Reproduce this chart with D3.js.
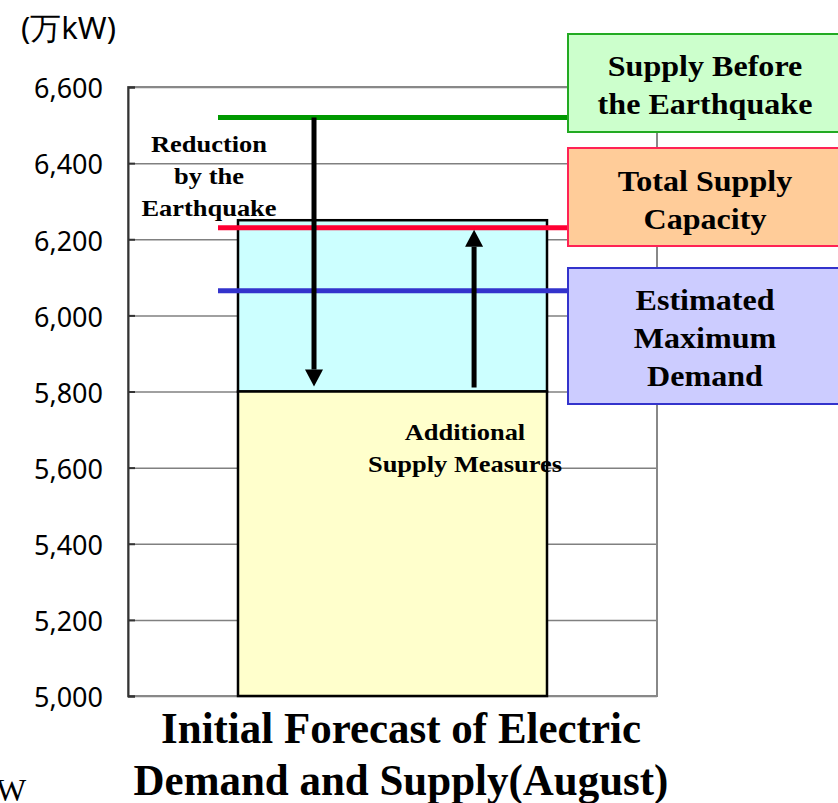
<!DOCTYPE html>
<html>
<head>
<meta charset="utf-8">
<script src="https://cdn.jsdelivr.net/npm/d3@7"></script>
<style>
body { margin: 0; background: #fff; }
.serif { font-family: "Liberation Serif", "Times New Roman", serif; font-weight: bold; }
.sans { font-family: "Noto Sans", "Open Sans", sans-serif; }
</style>
</head>
<body>
<svg width="838" height="803"></svg>
<script>
// data
var categories = ["Initial Forecast of Electric|Demand and Supply(August)"];
var baseSupply = [5800];          // yellow part
var addedSupply = [6250];         // top of cyan part
var levelNames = ["Supply Before|the Earthquake", "Total Supply|Capacity", "Estimated|Maximum|Demand"];
var levelValues = [6520, 6230, 6065];
var yTicks = [5000, 5200, 5400, 5600, 5800, 6000, 6200, 6400, 6600];
var unitLabel = "(万kW)";

var svg = d3.select("svg");

var plotL = 128, plotR = 657, plotT = 87, plotB = 696;

var x = d3.scaleBand().domain(categories).range([plotL, plotR]).paddingInner(0).paddingOuter(0.356);
var y = d3.scaleLinear().domain([5000, 6600]).range([plotB, plotT]);

var levelColors = ["#009900", "#ff0033", "#3333cc"];
var boxFill = ["#ccffcc", "#ffcc99", "#ccccff"];
var boxStroke = ["#22aa22", "#ff2255", "#3333cc"];

// grid
svg.append("g")
.attr("transform", "translate(" + plotL + ",0)")
.call(d3.axisRight(y).tickValues(yTicks).tickFormat("").tickSize(plotR - plotL))
.call(function (g) { g.select(".domain").remove(); })
.selectAll("line").attr("stroke", "#808080").attr("stroke-width", 1.5);

// plot border
svg.append("rect")
.attr("x", plotL).attr("y", plotT)
.attr("width", plotR - plotL).attr("height", plotB - plotT)
.attr("fill", "none").attr("stroke", "#888").attr("stroke-width", 2);

// left axis
var yAxis = svg.append("g")
.attr("transform", "translate(" + plotL + ",0)")
.call(d3.axisLeft(y).tickValues(yTicks).tickFormat(d3.format(",")).tickSize(-7).tickPadding(24));
yAxis.select(".domain").attr("stroke", "#333").attr("stroke-width", 2);
yAxis.selectAll("line").attr("stroke", "#333").attr("stroke-width", 2);
yAxis.selectAll("text").attr("class", "sans").attr("font-size", "27px").attr("fill", "#000")
.attr("dx", "-1").attr("dy", "0.4em");

svg.append("text").attr("class", "sans")
.attr("x", 21).attr("y", 39)
.attr("font-size", "31px")
.text(unitLabel);

// bars
categories.forEach(function (c, i) {
	svg.append("rect")
	.attr("x", x(c)).attr("y", y(addedSupply[i]))
	.attr("width", x.bandwidth()).attr("height", y(baseSupply[i]) - y(addedSupply[i]))
	.attr("fill", "#ccffff").attr("stroke", "#000").attr("stroke-width", 2.5);

	svg.append("rect")
	.attr("x", x(c)).attr("y", y(baseSupply[i]))
	.attr("width", x.bandwidth()).attr("height", y(5000) - y(baseSupply[i]))
	.attr("fill", "#ffffcc").attr("stroke", "#000").attr("stroke-width", 2.5);
});

var c0 = categories[0];
var bx = x(c0), bw = x.bandwidth();

// level lines
levelValues.forEach(function (v, i) {
	svg.append("line")
	.attr("x1", bx - 20).attr("x2", 570)
	.attr("y1", y(v)).attr("y2", y(v))
	.attr("stroke", levelColors[i]).attr("stroke-width", 5);
});

// arrows
function arrow(xp, y0, y1) {
	var dir = y1 > y0 ? 1 : -1;
	var head = 17;
	svg.append("line")
	.attr("x1", xp).attr("x2", xp)
	.attr("y1", y0).attr("y2", y1 - dir * head)
	.attr("stroke", "#000").attr("stroke-width", 5);
	svg.append("path")
	.attr("d", "M" + (xp - 9) + "," + (y1 - dir * head) + "L" + (xp + 9) + "," + (y1 - dir * head) + "L" + xp + "," + y1 + "Z")
	.attr("fill", "#000");
}
arrow(bx + bw * 0.246, y(levelValues[0]), y(baseSupply[0]) - 5);
arrow(bx + bw * 0.764, y(baseSupply[0]) - 4, y(levelValues[1]) + 2);

// annotations (text is a bit stretched in the original)
function multiText(lines, cx, cy0, lh, size, sx) {
	var t = svg.append("text").attr("class", "serif")
	.attr("transform", "translate(" + cx + ",0) scale(" + sx + ",1)")
	.attr("text-anchor", "middle").attr("font-size", size);
	lines.forEach(function (s, k) {
		t.append("tspan").attr("x", 0).attr("y", cy0 + k * lh).text(s);
	});
	return t;
}
multiText(["Reduction", "by the", "Earthquake"], 209, 152, 32, "23px", 1.15);
multiText(["Additional", "Supply Measures"], 465, 440, 32, "23px", 1.15);

// legend boxes
var boxes = [[34, 132], [148, 246], [268, 404]];
var firstBase = [76, 191, 310];
levelNames.forEach(function (n, i) {
	svg.append("rect")
	.attr("x", 568).attr("y", boxes[i][0])
	.attr("width", 280).attr("height", boxes[i][1] - boxes[i][0])
	.attr("fill", boxFill[i]).attr("stroke", boxStroke[i]).attr("stroke-width", 2);
	multiText(n.split("|"), 705, firstBase[i], 38, "30px", 1.07);
});

// title
multiText(c0.split("|"), 401, 743, 52, "45px", 0.955);

svg.append("text")
.attr("x", -4).attr("y", 801)
.attr("font-family", "Liberation Serif, serif").attr("font-size", "32px")
.text("W");
</script>
</body>
</html>
